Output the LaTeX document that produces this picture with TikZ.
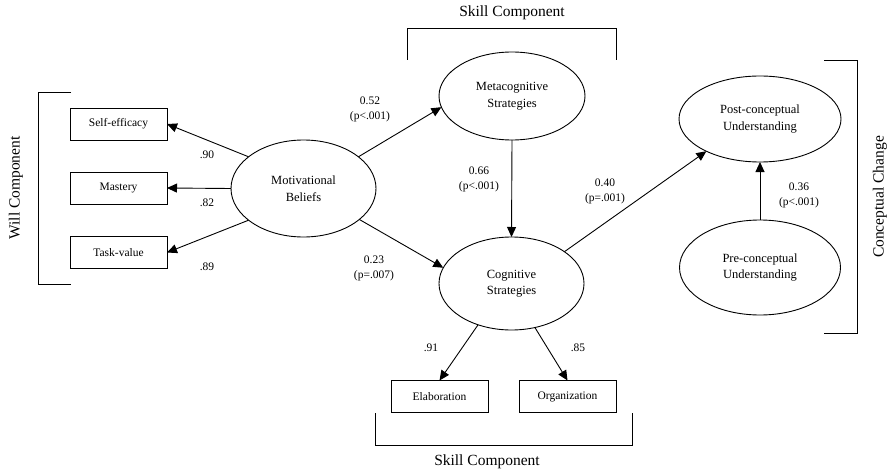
\documentclass[tikz,border=0pt]{standalone}
\usepackage{fontspec}
\setmainfont{Liberation Serif}
\usetikzlibrary{arrows.meta,shapes.geometric}
\begin{document}
\begin{tikzpicture}[x=1pt,y=-1pt,
  every node/.style={inner sep=0pt,outer sep=0pt},
  obsbox/.style={draw,line width=0.9pt,minimum width=97pt,minimum height=32pt,font=\fontsize{11.5}{14}\selectfont},
  latent/.style={draw,ellipse,line width=0.9pt,align=center,font=\fontsize{12.5}{16.5}\selectfont},
  coef/.style={align=center,font=\fontsize{11.5}{15}\selectfont},
  title/.style={font=\fontsize{15.5}{18}\selectfont},
  path/.style={line width=0.9pt,-{Triangle[length=10pt,width=9pt]}},
  brk/.style={line width=0.9pt}]
\useasboundingbox (0,0) rectangle (890,473);
% boxes
\node[obsbox] (se) at (118.5,124) {Self-efficacy};
\node[obsbox] (ms) at (118.5,188) {Mastery};
\node[obsbox] (tv) at (118.5,252.5) {Task-value};
\node[obsbox] (el) at (439.5,396.5) {Elaboration};
\node[obsbox] (og) at (567.5,396.5) {Organization};
% latent
\node[latent,minimum width=145pt,minimum height=97pt] (mot) at (303.5,188.5) {Motivational\\Beliefs};
\node[latent,minimum width=146pt,minimum height=88pt] (meta) at (512,96) {Metacognitive\\Strategies};
\node[latent,minimum width=145pt,minimum height=93pt] (cog) at (511.5,283.5) {Cognitive\\Strategies};
\node[latent,minimum width=162pt,minimum height=86pt] (post) at (760,119) {Post-conceptual\\Understanding};
\node[latent,minimum width=161pt,minimum height=95pt] (pre) at (760,267.5) {Pre-conceptual\\Understanding};
% paths
\draw[path] (mot.150) -- (se.east);
\draw[path] (mot.west) -- (ms.east);
\draw[path] (mot.210) -- (tv.east);
\draw[path] (mot.30) -- (meta.189);
\draw[path] (mot.331) -- (cog.167);
\draw[path] (meta.south) -- (cog.north);
\draw[path] (cog.31) -- (post.211);
\draw[path] (pre.north) -- (post.south);
\draw[path] (cog.231) -- (el.north);
\draw[path] (cog.298) -- (og.north);
% coefficients
\node[coef] (c90) at (207,155) {.90};
\node[coef] (c82) at (207,203) {.82};
\node[coef] (c89) at (207,267) {.89};
\node[coef] (c52) at (370,109) {0.52\\(p<.001)};
\node[coef] (c23) at (374,268.5) {0.23\\(p=.007)};
\node[coef] (c66) at (479,179.5) {0.66\\(p<.001)};
\node[coef] (c40) at (605,191.5) {0.40\\(p=.001)};
\node[coef] (c36) at (799,195) {0.36\\(p<.001)};
\node[coef] (c91) at (431,348) {.91};
\node[coef] (c85) at (578,348) {.85};
% brackets
\draw[brk] (71,92) -- (38,92) -- (38,284) -- (71,284);
\node[title,rotate=90] (will) at (16,188) {Will Component};
\draw[brk] (407,60) -- (407,28) -- (616,28) -- (616,60);
\node[title] (sk1) at (512,13) {Skill Component};
\draw[brk] (375,413) -- (375,445) -- (632,445) -- (632,413);
\node[title] (sk2) at (487,462) {Skill Component};
\draw[brk] (824,60) -- (857,60) -- (857,333) -- (824,333);
\node[title,rotate=90] (cc) at (880,197) {Conceptual Change};
\end{tikzpicture}
\end{document}
